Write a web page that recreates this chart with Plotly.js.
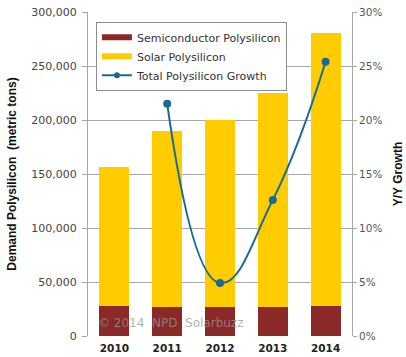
<!DOCTYPE html>
<html>
<head>
<meta charset="utf-8">
<script src="https://cdn.plot.ly/plotly-3.0.1.min.js"></script>
<style>html,body{margin:0;padding:0;background:#fff;}#chart{width:406px;height:357px;}</style>
</head>
<body>
<div id="chart"></div>
<script>
const years = ['2010', '2011', '2012', '2013', '2014'];
const semiconductor = [28000, 27000, 27000, 27000, 28000];
const solar = [128500, 163000, 173000, 198000, 253000];
const growthYears = ['2011', '2012', '2013', '2014'];
const growth = [0.215, 0.049, 0.126, 0.254];
const leftTicks = [0, 50000, 100000, 150000, 200000, 250000, 300000];
const rightTicks = [0, 0.05, 0.10, 0.15, 0.20, 0.25, 0.30];

const font = 'DejaVu Sans, Verdana, sans-serif';
const titleFont = 'Liberation Sans, Arial, sans-serif';
const brown = '#8b2828';
const yellow = '#ffcc00';
const blue = '#1b6a96';

const traces = [
  {type: 'bar', name: 'Semiconductor Polysilicon', x: years, y: semiconductor,
   marker: {color: brown}, hoverinfo: 'none', showlegend: false},
  {type: 'bar', name: 'Solar Polysilicon', x: years, y: solar,
   marker: {color: yellow}, hoverinfo: 'none', showlegend: false},
  {type: 'scatter', mode: 'lines+markers', name: 'Total Polysilicon Growth',
   x: growthYears, y: growth, yaxis: 'y2', showlegend: false,
   line: {color: blue, width: 2, shape: 'spline', smoothing: 1.3},
   marker: {color: blue, size: 8}, hoverinfo: 'none'},
  // legend-only entries (no data), to mimic the reference's wide legend keys
  {type: 'scatter', mode: 'lines', name: 'Semiconductor Polysilicon', x: [null], y: [null],
   line: {color: brown, width: 6}},
  {type: 'scatter', mode: 'lines', name: 'Solar Polysilicon', x: [null], y: [null],
   line: {color: yellow, width: 6}},
  {type: 'scatter', mode: 'lines+markers', name: 'Total Polysilicon Growth', x: [null], y: [null],
   yaxis: 'y2', line: {color: blue, width: 2}, marker: {color: blue, size: 6}}
];

const layout = {
  width: 406, height: 357,
  margin: {l: 88, r: 54, t: 12, b: 21},
  paper_bgcolor: '#fff', plot_bgcolor: '#fff',
  barmode: 'stack', bargap: 0.43,
  font: {family: font, size: 11, color: '#444'},
  showlegend: true,
  legend: {x: 0.03, y: 0.97, xanchor: 'left', yanchor: 'top', traceorder: 'normal',
           bgcolor: '#fff', bordercolor: '#8c8c8c', borderwidth: 1,
           font: {family: font, size: 11, color: '#333'}},
  xaxis: {type: 'category', showgrid: false, showline: false, ticks: '', ticklabelstandoff: 4,
          tickfont: {family: font, size: 10.5, color: '#222', weight: 'bold'}},
  yaxis: {range: [0, 300000], tickvals: leftTicks, tickformat: ',d',
          showgrid: true, gridcolor: '#a8a8a8', gridwidth: 1,
          showline: true, linecolor: '#a8a8a8', ticks: 'outside', ticklen: 5,
          tickcolor: '#a8a8a8', zeroline: false, ticklabelstandoff: 3,
          tickfont: {family: font, size: 11, color: '#444'},
          title: {text: 'Demand Polysilicon  (metric tons)', standoff: 12,
                  font: {family: titleFont, size: 12, color: '#111', weight: 'bold'}}},
  yaxis2: {range: [0, 0.30], tickvals: rightTicks, tickformat: '.0%', overlaying: 'y', side: 'right',
           showgrid: false, showline: true, linecolor: '#a8a8a8', ticks: 'outside', ticklen: 4,
           tickcolor: '#a8a8a8', zeroline: false,
           tickfont: {family: font, size: 10.5, color: '#555'},
           title: {text: 'Y/Y Growth', standoff: 12,
                   font: {family: titleFont, size: 12, color: '#111', weight: 'bold'}}},
  annotations: [{text: '© 2014  NPD  Solarbuzz', xref: 'paper', yref: 'paper',
                 x: 0.03, y: 0.04, xanchor: 'left', yanchor: 'middle', showarrow: false,
                 font: {family: font, size: 12, color: 'rgba(150,150,150,0.75)'}}]
};

Plotly.newPlot('chart', traces, layout, {displayModeBar: false, staticPlot: true});
</script>
</body>
</html>
